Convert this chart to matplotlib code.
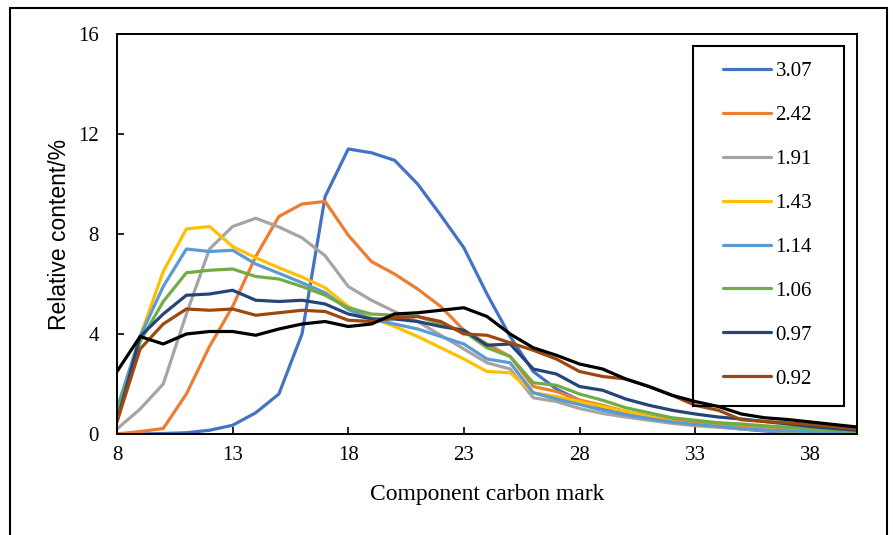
import matplotlib
matplotlib.use("Agg")
import matplotlib.pyplot as plt
from matplotlib.patches import Rectangle

carbon = list(range(8, 41))

s307 = [0.0, 0.0, 0.02, 0.05, 0.15, 0.35, 0.85, 1.6, 4.0, 9.5, 11.4, 11.25, 10.95, 10.0, 8.75, 7.45, 5.6, 3.9,
        2.5, 1.8, 1.35, 1.05, 0.85, 0.7, 0.5, 0.4, 0.3, 0.2, 0.12, 0.08, 0.05, 0.03, 0.02]
s242 = [0.0, 0.1, 0.22, 1.6, 3.5, 5.1, 7.1, 8.7, 9.2, 9.3, 7.95, 6.9, 6.4, 5.8, 5.1, 4.15, 3.6, 3.1,
        1.9, 1.7, 1.36, 1.15, 0.9, 0.72, 0.56, 0.45, 0.36, 0.3, 0.24, 0.18, 0.13, 0.08, 0.05]
s191 = [0.2, 1.0, 2.0, 4.8, 7.4, 8.3, 8.63, 8.28, 7.85, 7.13, 5.9, 5.35, 4.9, 4.5, 3.95, 3.4, 2.85, 2.6,
        1.45, 1.3, 1.02, 0.82, 0.68, 0.55, 0.43, 0.33, 0.27, 0.2, 0.15, 0.1, 0.08, 0.05, 0.04]
s143 = [1.0, 3.9, 6.5, 8.2, 8.3, 7.5, 7.05, 6.65, 6.28, 5.85, 5.1, 4.65, 4.3, 3.9, 3.45, 3.0, 2.5, 2.45,
        1.65, 1.5, 1.3, 1.1, 0.9, 0.7, 0.5, 0.38, 0.3, 0.23, 0.17, 0.12, 0.1, 0.06, 0.03]
s114 = [1.0, 3.9, 5.9, 7.4, 7.3, 7.35, 6.8, 6.43, 6.05, 5.65, 4.98, 4.6, 4.4, 4.2, 3.9, 3.6, 3.0, 2.85,
        1.65, 1.4, 1.18, 0.95, 0.77, 0.62, 0.48, 0.38, 0.3, 0.22, 0.16, 0.12, 0.1, 0.07, 0.05]
s106 = [0.8, 3.7, 5.3, 6.45, 6.55, 6.6, 6.3, 6.2, 5.9, 5.55, 5.05, 4.8, 4.75, 4.7, 4.4, 4.1, 3.45, 3.1,
        2.05, 1.95, 1.6, 1.35, 1.05, 0.85, 0.65, 0.55, 0.45, 0.4, 0.33, 0.27, 0.2, 0.15, 0.1]
s097 = [0.5, 3.9, 4.8, 5.55, 5.6, 5.75, 5.35, 5.3, 5.35, 5.2, 4.8, 4.6, 4.6, 4.5, 4.3, 4.15, 3.55, 3.6,
        2.6, 2.4, 1.9, 1.75, 1.4, 1.15, 0.95, 0.8, 0.68, 0.6, 0.5, 0.4, 0.3, 0.22, 0.15]
s092 = [0.5, 3.4, 4.4, 5.0, 4.95, 5.0, 4.75, 4.85, 4.95, 4.9, 4.55, 4.5, 4.65, 4.7, 4.5, 4.0, 3.95, 3.65,
        3.35, 3.0, 2.5, 2.3, 2.2, 1.9, 1.55, 1.15, 0.95, 0.57, 0.5, 0.45, 0.38, 0.3, 0.2]
s_black = [2.5, 3.9, 3.6, 4.0, 4.1, 4.1, 3.95, 4.2, 4.4, 4.5, 4.3, 4.4, 4.8, 4.85, 4.95, 5.05, 4.7, 4.0,
           3.45, 3.15, 2.8, 2.6, 2.2, 1.9, 1.55, 1.3, 1.1, 0.8, 0.65, 0.58, 0.48, 0.38, 0.28]

labels = ["3.07", "2.42", "1.91", "1.43", "1.14", "1.06", "0.97", "0.92"]
series = [s307, s242, s191, s143, s114, s106, s097, s092]
colors = ["#4472C4", "#ED7D31", "#A5A5A5", "#FFC000", "#5B9BD5", "#70AD47", "#264478", "#9E480E"]

xticks = [8, 13, 18, 23, 28, 33, 38]
yticks = [0, 4, 8, 12, 16]

W, H = 893, 535
fig = plt.figure(figsize=(W / 100, H / 100), dpi=100)
ax = fig.add_axes([117 / W, 1 - 434 / H, (857 - 117) / W, (434 - 34) / H])

for vals, lab, col in zip(series, labels, colors):
    ax.plot(carbon, vals, color=col, lw=2.3, label=lab, solid_joinstyle="round", solid_capstyle="round")
ax.plot(carbon, s_black, color="black", lw=2.3, solid_joinstyle="round", solid_capstyle="round")

ax.set_xlim(8, 40)
ax.set_ylim(0, 16)
ax.set_xticks(xticks)
ax.set_yticks(yticks)
ax.tick_params(direction="in", length=5, width=1.2, top=False, right=False)
ax.tick_params(axis="x", pad=9)
ax.tick_params(axis="y", pad=13)
for lbl in ax.get_xticklabels() + ax.get_yticklabels():
    lbl.set_fontfamily("Liberation Serif")
    lbl.set_fontsize(15)
for sp in ax.spines.values():
    sp.set_linewidth(1.4)
    sp.set_color("black")

ax.set_xlabel("Component carbon mark", fontfamily="Liberation Serif", fontsize=17, labelpad=13)
ax.set_ylabel("Relative content/%", fontfamily="Liberation Sans", fontsize=16.5, labelpad=5)

leg = ax.legend(loc="upper left", bbox_to_anchor=(713 / W, 1 - 51 / H), bbox_transform=fig.transFigure,
                frameon=False, prop={"family": "Liberation Serif", "size": 15},
                handlelength=2.3, handletextpad=0.2, labelspacing=1.17, borderpad=0)
fig.patches.append(Rectangle((693 / W, 1 - 406 / H), (844 - 693) / W, (406 - 46) / H,
                             transform=fig.transFigure, fill=False, edgecolor="black", lw=1.5))
fig.patches.append(Rectangle((10 / W, -0.02), (887 - 10) / W, 1.02 - 8 / H,
                             transform=fig.transFigure, fill=False, edgecolor="black", lw=1.5))

fig.savefig("out.png", dpi=100)
